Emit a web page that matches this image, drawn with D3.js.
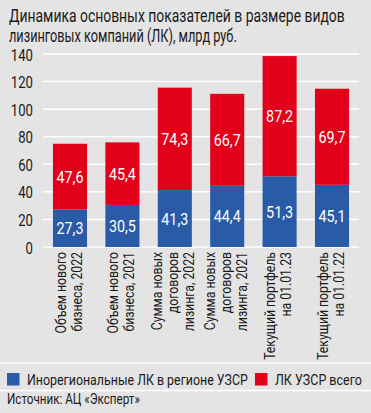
<!DOCTYPE html>
<html>
<head>
<meta charset="utf-8">
<script src="https://cdn.jsdelivr.net/npm/d3@7"></script>
<style>
  body { margin: 0; background: #e4e4e4; }
  svg text { font-family: "Roboto", "Liberation Sans", sans-serif; }
</style>
</head>
<body>
<div id="chart"></div>
<script>
// chart data
let categories = [
    ["Объем нового", "бизнеса, 2022"],
    ["Объем нового", "бизнеса, 2021"],
    ["Сумма новых", "договоров", "лизинга, 2022"],
    ["Сумма новых", "договоров", "лизинга, 2021"],
    ["Текущий портфель", "на 01.01.23"],
    ["Текущий портфель", "на 01.01.22"]
];
let blueValues = [27.3, 30.5, 41.3, 44.4, 51.3, 45.1];
let redValues = [47.6, 45.4, 74.3, 66.7, 87.2, 69.7];
let yTicks = [0, 20, 40, 60, 80, 100, 120, 140];
let seriesNames = ["Инорегиональные ЛК в регионе УЗСР", "ЛК УЗСР всего"];
let colors = ["#2a5ba7", "#e2001a"];

let svgWidth = 371;
let svgHeight = 413;
let ink = "#1a1a1a";

// the reference uses a condensed face: squeeze each text horizontally to width w
// (x, y, rot) is where the text sits
function squeezedText(parent, str, x, y, size, w, opts) {
    opts = opts || {};
    let t = parent.append("text")
        .attr("font-size", size)
        .attr("fill", opts.fill || ink)
        .attr("text-anchor", opts.anchor || "start")
        .text(str);
    let natural = t.node().getComputedTextLength();
    let k = (typeof w === "function") ? w(natural) / natural : w / natural;
    let rot = opts.rotate ? ` rotate(${opts.rotate})` : "";
    t.attr("transform", `translate(${x},${y})${rot} scale(${k},1)`);
    return t;
}

let svg = d3.select("#chart")
    .append("svg")
    .attr("width", svgWidth)
    .attr("height", svgHeight);

svg.append("rect")
    .attr("width", svgWidth)
    .attr("height", svgHeight)
    .attr("fill", "#e4e4e4");

// title
squeezedText(svg, "Динамика основных показателей в размере видов", 9, 22, 18, 336);
squeezedText(svg, "лизинговых компаний (ЛК), млрд руб.", 9, 42, 18, 228);

// scales
let x = d3.scaleBand()
    .domain(d3.range(categories.length))
    .range([43.8, 358.2])
    .paddingInner(0.35)
    .paddingOuter(0.175);

let y = d3.scaleLinear()
    .domain([0, 140])
    .range([247, 54]);

// grid lines
svg.append("g")
    .selectAll("line")
    .data(yTicks)
    .enter()
    .append("line")
    .attr("x1", 43)
    .attr("x2", 359)
    .attr("y1", d => y(d))
    .attr("y2", d => y(d))
    .attr("stroke", "#ffffff")
    .attr("stroke-width", 1.5);

// y axis labels
let leftAxis = d3.axisLeft(y).tickValues(yTicks).tickSize(0).tickPadding(0);
let yAxis = svg.append("g")
    .attr("transform", "translate(33,0)")
    .call(leftAxis);
yAxis.select(".domain").remove();
yAxis.selectAll("text")
    .attr("font-size", 17)
    .attr("fill", ink)
    .attr("x", 0)
    .attr("dy", "0.36em")
    .style("font-family", "Roboto, sans-serif")
    .each(function(d) {
        let natural = this.getComputedTextLength();
        d3.select(this).attr("transform", `scale(${String(d).length * 7.4 / natural},1)`);
    });

// stacked bars
let stacked = blueValues.map((b, i) => ({ i: i, blue: b, red: redValues[i] }));

svg.append("g")
    .selectAll("rect")
    .data(stacked)
    .enter()
    .append("rect")
    .attr("x", d => x(d.i))
    .attr("width", x.bandwidth())
    .attr("y", d => y(d.blue))
    .attr("height", d => y(0) - y(d.blue))
    .attr("fill", colors[0]);

svg.append("g")
    .selectAll("rect")
    .data(stacked)
    .enter()
    .append("rect")
    .attr("x", d => x(d.i))
    .attr("width", x.bandwidth())
    .attr("y", d => y(d.blue + d.red))
    .attr("height", d => y(d.blue) - y(d.blue + d.red))
    .attr("fill", colors[1]);

// value labels
let fmt = v => v.toFixed(1).replace(".", ",");
let valueLayer = svg.append("g");
stacked.forEach(function(d) {
    let cx = x(d.i) + x.bandwidth() / 2;
    squeezedText(valueLayer, fmt(d.blue), cx, y(d.blue / 2) + 6, 17, 27,
        { anchor: "middle", fill: "#ffffff" });
    squeezedText(valueLayer, fmt(d.red), cx, y(d.blue + d.red / 2) + 6, 17, 27,
        { anchor: "middle", fill: "#ffffff" });
});

// category labels, rotated
let probe = svg.append("text").attr("font-size", 14.5).text("Текущий портфель");
let k = 108 / probe.node().getComputedTextLength();
probe.remove();

let catLayer = svg.append("g");
categories.forEach(function(lines, i) {
    let cx = x(i) + x.bandwidth() / 2;
    let n = lines.length;
    lines.forEach(function(line, j) {
        let lx = cx + 3.5 + (j - (n - 1) / 2) * 16;
        squeezedText(catLayer, line, lx, 252, 14.5, w => w * k,
            { anchor: "end", rotate: -90 });
    });
});

// separators
svg.append("line").attr("x1", 0).attr("x2", svgWidth).attr("y1", 363).attr("y2", 363)
    .attr("stroke", "#ffffff").attr("stroke-width", 1.5);
svg.append("line").attr("x1", 0).attr("x2", svgWidth).attr("y1", 390.5).attr("y2", 390.5)
    .attr("stroke", "#ffffff").attr("stroke-width", 1.5);

// legend
let legendX = [7, 255];
let legendW = [221, 87];
seriesNames.forEach(function(name, i) {
    svg.append("rect")
        .attr("x", legendX[i])
        .attr("y", 373)
        .attr("width", 12.5)
        .attr("height", 12.5)
        .attr("fill", colors[i]);
    squeezedText(svg, name, legendX[i] + 20, 384.5, 15, legendW[i]);
});

// source
squeezedText(svg, "Источник: АЦ «Эксперт»", 7, 403.5, 15, 133);
</script>
</body>
</html>
